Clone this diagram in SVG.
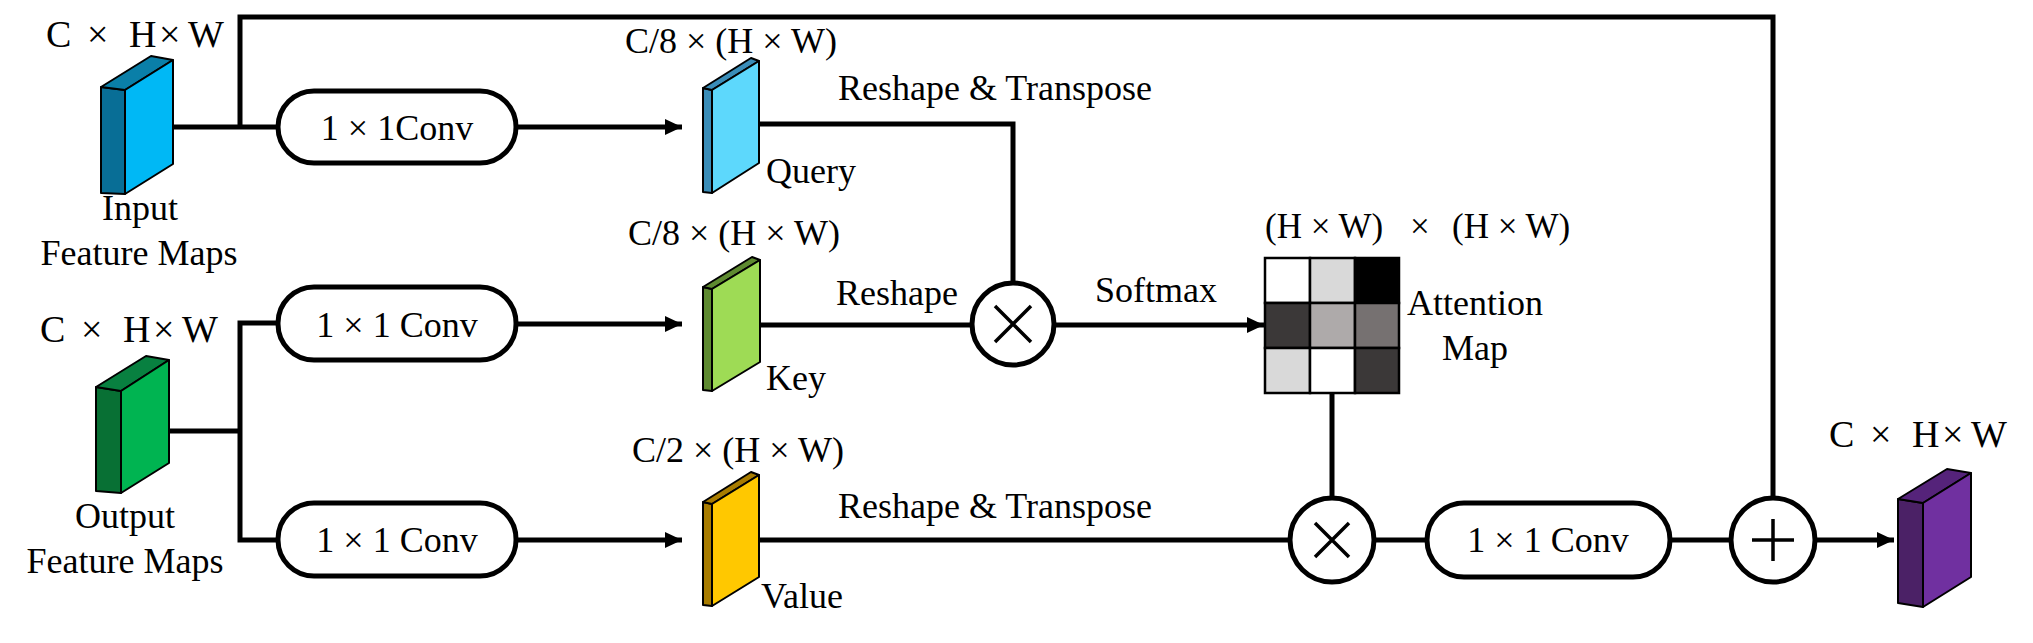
<svg xmlns="http://www.w3.org/2000/svg" width="2033" height="643" viewBox="0 0 2033 643">
<style>
text{font-family:"Liberation Serif","Times New Roman",serif;font-size:36px;fill:#000}
.m{text-anchor:middle}
.dim{font-size:38px}
.ln{fill:none;stroke:#000;stroke-width:5}
.pill{fill:#fff;stroke:#000;stroke-width:5}
.op{fill:#fff;stroke:#000;stroke-width:5}
.sym{stroke:#000;stroke-width:3.5;fill:none}
.cb{stroke:#000;stroke-width:2;stroke-linejoin:round}
.cell{stroke:#000;stroke-width:2.5}
</style>
<defs>
<marker id="ah" markerUnits="userSpaceOnUse" markerWidth="18" markerHeight="18" viewBox="0 0 18 18" refX="17" refY="9" orient="auto">
<path d="M0,1 L17,9 L0,17 Z" fill="#000"/>
</marker>
</defs>

<g id="connectors">
<path class="ln" d="M173,127 H278"/>
<path class="ln" d="M240,127 V17 H1773 V498"/>
<path class="ln" d="M516,127 H682" marker-end="url(#ah)"/>
<path class="ln" d="M169,431 H240"/>
<path class="ln" d="M278,323 H240 V540 H278"/>
<path class="ln" d="M516,324 H682" marker-end="url(#ah)"/>
<path class="ln" d="M516,540 H682" marker-end="url(#ah)"/>
<path class="ln" d="M759,124 H1013 V283"/>
<path class="ln" d="M760,325 H972"/>
<path class="ln" d="M1054,325 H1264" marker-end="url(#ah)"/>
<path class="ln" d="M1332,393 V498"/>
<path class="ln" d="M759,540 H1290"/>
<path class="ln" d="M1374,540 H1427"/>
<path class="ln" d="M1670,540 H1731"/>
<path class="ln" d="M1815,540 H1894" marker-end="url(#ah)"/>
</g>

<g id="input">
<polygon class="cb" fill="#086E96" points="101,87 125,90 125,194 101,193"/>
<polygon class="cb" fill="#0A7FA8" points="101,87 151,56 173,60 125,90"/>
<polygon class="cb" fill="#00B8F5" points="125,90 173,60 173,164 125,194"/>
<text class="dim" y="47"><tspan x="46">C</tspan><tspan x="87">×</tspan><tspan x="129">H</tspan><tspan x="159">×</tspan><tspan x="188">W</tspan></text>
<text class="m" x="140" y="220">Input</text>
<text class="m" x="139" y="265">Feature Maps</text>
</g>

<g id="output">
<polygon class="cb" fill="#087034" points="96,387 121,391 121,493 96,491"/>
<polygon class="cb" fill="#088040" points="96,387 146,356 169,360 121,391"/>
<polygon class="cb" fill="#00B451" points="121,391 169,360 169,463 121,493"/>
<text class="dim" y="342"><tspan x="40">C</tspan><tspan x="81">×</tspan><tspan x="123">H</tspan><tspan x="153">×</tspan><tspan x="182">W</tspan></text>
<text class="m" x="125" y="528">Output</text>
<text class="m" x="125" y="573">Feature Maps</text>
</g>

<g id="conv1">
<rect class="pill" x="278" y="91" width="238" height="72" rx="36"/>
<text class="m" x="397" y="140">1 × 1Conv</text>
</g>
<g id="conv2">
<rect class="pill" x="278" y="287" width="238" height="73" rx="36"/>
<text class="m" x="397" y="337">1 × 1 Conv</text>
</g>
<g id="conv3">
<rect class="pill" x="278" y="503" width="238" height="73" rx="36"/>
<text class="m" x="397" y="552">1 × 1 Conv</text>
</g>

<g id="query">
<polygon class="cb" fill="#3A8DB8" points="703,88 712,90 712,193 703,192"/>
<polygon class="cb" fill="#3A8DB8" points="703,88 751,58 759,61 712,90"/>
<polygon class="cb" fill="#5DD8FC" points="712,90 759,61 759,163 712,193"/>
<text class="m" x="731" y="53">C/8 × (H × W)</text>
<text x="766" y="183">Query</text>
<text x="838" y="100">Reshape &amp; Transpose</text>
</g>

<g id="key">
<polygon class="cb" fill="#5E8A30" points="703,287 712,289 712,391 703,390"/>
<polygon class="cb" fill="#5E8A30" points="703,287 752,257 760,260 712,289"/>
<polygon class="cb" fill="#9EDB55" points="712,289 760,260 760,362 712,391"/>
<text class="m" x="734" y="245">C/8 × (H × W)</text>
<text x="766" y="390">Key</text>
<text x="836" y="305">Reshape</text>
</g>

<g id="value">
<polygon class="cb" fill="#A87C00" points="703,502 712,504 712,606 703,605"/>
<polygon class="cb" fill="#A87C00" points="703,502 751,472 759,475 712,504"/>
<polygon class="cb" fill="#FFC800" points="712,504 759,475 759,577 712,606"/>
<text class="m" x="738" y="462">C/2 × (H × W)</text>
<text x="761" y="608">Value</text>
<text x="838" y="518">Reshape &amp; Transpose</text>
</g>

<g id="mul1">
<circle class="op" cx="1013" cy="324" r="41"/>
<path class="sym" d="M995,306 L1031,342 M1031,306 L995,342"/>
<text x="1095" y="302">Softmax</text>
</g>

<g id="attention">
<rect class="cell" x="1265" y="258" width="45" height="45" fill="#FFFFFF"/>
<rect class="cell" x="1310" y="258" width="45" height="45" fill="#D9D9D9"/>
<rect class="cell" x="1355" y="258" width="44" height="45" fill="#000000"/>
<rect class="cell" x="1265" y="303" width="45" height="45" fill="#3B3838"/>
<rect class="cell" x="1310" y="303" width="45" height="45" fill="#AEAAAA"/>
<rect class="cell" x="1355" y="303" width="44" height="45" fill="#767171"/>
<rect class="cell" x="1265" y="348" width="45" height="45" fill="#D9D9D9"/>
<rect class="cell" x="1310" y="348" width="45" height="45" fill="#FFFFFF"/>
<rect class="cell" x="1355" y="348" width="44" height="45" fill="#3B3838"/>
<text y="238" style="font-size:35px"><tspan x="1265">(H × W)</tspan><tspan x="1410">×</tspan><tspan x="1452">(H × W)</tspan></text>
<text class="m" x="1475" y="315">Attention</text>
<text class="m" x="1475" y="360">Map</text>
</g>

<g id="mul2">
<circle class="op" cx="1332" cy="540" r="42"/>
<path class="sym" d="M1315,523 L1349,557 M1349,523 L1315,557"/>
</g>

<g id="conv4">
<rect class="pill" x="1427" y="503" width="243" height="74" rx="37"/>
<text class="m" x="1548" y="552">1 × 1 Conv</text>
</g>

<g id="add">
<circle class="op" cx="1773" cy="540" r="42"/>
<path class="sym" d="M1752,540 H1794 M1773,519 V561"/>
</g>

<g id="result">
<polygon class="cb" fill="#4B2166" points="1898,499 1923,503 1923,607 1898,603"/>
<polygon class="cb" fill="#55237A" points="1898,499 1947,469 1971,473 1923,503"/>
<polygon class="cb" fill="#7030A0" points="1923,503 1971,473 1971,577 1923,607"/>
<text class="dim" y="447"><tspan x="1829">C</tspan><tspan x="1870">×</tspan><tspan x="1912">H</tspan><tspan x="1942">×</tspan><tspan x="1971">W</tspan></text>
</g>
</svg>
